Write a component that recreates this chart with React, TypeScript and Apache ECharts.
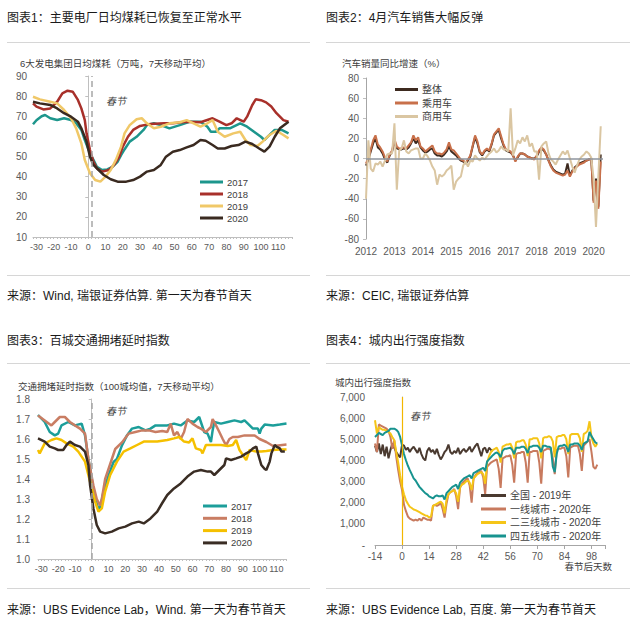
import React, { useEffect, useRef } from 'react';
import * as echarts from 'echarts';

const FONT = '"Liberation Sans", "Noto Sans CJK SC", sans-serif';

// ---------- Panel 1: coal consumption (day vs value) ----------
const coalNames = ['2017', '2018', '2019', '2020'];
const coal2017 = [[-32,66],[-30,68],[-27,70],[-25,70.6],[-22,69],[-18,68.1],[-14,69],[-10,68.1],[-7,66.5],[-4,63.2],[-2,58.2],[1,51.6],[3,48.3],[5,44.9],[8,43.3],[11,43.6],[14,44.9],[17,47.4],[19,50.7],[21,53.5],[24,57.4],[28,59.8],[32,63.2],[34,65.6],[38,66.5],[42,65.6],[47,64],[53,65.6],[59,67.3],[65,67.3],[69,64.8],[71,62.3],[74,62.3],[76,64],[82,64],[88,66.5],[92,64.8],[96,62.3],[100,59.8],[102,58.2],[105,60.7],[108,63.2],[112,63.2],[116,61.5]];
const coal2018 = [[-32,76.4],[-30,74.8],[-26,73.4],[-22,73.9],[-18,77.2],[-15,81.4],[-12,82.7],[-9,82.2],[-6,78.1],[-4,73.9],[-2,68.1],[-1,61.5],[1,53.2],[3,47.4],[5,44.1],[8,42.5],[12,43.3],[15,45.8],[18,49.9],[20,54.9],[23,59.8],[26,63.2],[30,65.2],[36,66.2],[44,66.5],[49,66.5],[57,67.3],[65,67],[72,69],[76,67.3],[80,65.6],[83,66.5],[86,69],[90,67.3],[92,69.8],[95,75.6],[97,78.4],[100,78],[103,76.9],[106,74.8],[109,71.5],[113,68.1],[116,67.3]];
const coal2019 = [[-32,79.7],[-28,78.4],[-22,77.2],[-18,76.4],[-14,73.1],[-10,69],[-7,64],[-4,56.6],[-2,48.3],[1,41.7],[4,38.3],[7,37.5],[10,40],[13,43.3],[16,48.3],[19,54.9],[21,61.5],[24,65.6],[28,68.5],[31,69],[34,66.5],[38,64],[42,64.8],[47,66.5],[53,67],[57,68.1],[61,66.5],[65,64.8],[69,66.5],[72,68.1],[75,62.3],[79,59.8],[84,61.5],[88,62.3],[91,58.2],[94,55.7],[98,55.2],[101,57.4],[105,60.7],[109,62.8],[113,60.7],[116,59]];
const coal2020 = [[-32,77.2],[-28,76.4],[-22,75.6],[-18,73.9],[-14,71.5],[-10,69.8],[-6,67.3],[-4,64],[-1,57.4],[1,49.9],[3,45.8],[6,43.3],[9,40.8],[13,38.7],[17,37.5],[22,37.5],[26,38.3],[30,40],[34,42.5],[38,43.3],[42,45.8],[45,49.9],[49,52.4],[53,53.2],[57,54.5],[61,55.7],[65,58.2],[68,57.8],[72,55.7],[75,54],[79,54],[83,55.2],[87,55.7],[91,57.4],[95,56.2],[99,54],[102,52.4],[105,54.9],[108,59.8],[111,64],[116,67.3]];
const coalSeries = [coal2017, coal2018, coal2019, coal2020];

// ---------- Panel 2: auto sales yoy, monthly from Jan 2012 ----------
const autoStartYear = 2012;
const autoNames = ['整体', '乘用车', '商用车'];
const autoTotal = [
  -7, -1, 7, 15, 20, 11, 9, 5, -1, -4, 3, 7,
  16, 10, 9, 9, 10, 9, 11, 15, 20, 15, 18, 11,
  8, 6, 7, 9, 10, 5, 3, 3, 2, 4, 7, 12,
  7, 5, 3, 0, -2, -3, -5, -2, 2, 12, 21, 15,
  6, 3, 7, 9, 7, 14, 23, 26, 28, 20, 13, 8,
  7, 6, 3, -2, 1, 5, 5, 4, 2, 1, 0, 0,
  2, 7, 10, 8, 4, -2, -7, -11, -13, -14, -15, -16,
  -15, -5, -17, -12, -9, -7, -5, -4, -3, -2, -1, 0,
  -42, -20, -48, 4,
];
const autoPassenger = [
  -5, 0, 9, 18, 23, 14, 11, 7, 1, -3, 4, 8,
  19, 12, 10, 10, 11, 10, 13, 16, 23, 18, 21, 12,
  10, 7, 9, 11, 13, 7, 5, 5, 4, 6, 9, 16,
  9, 8, 5, 2, -1, -2, -4, -1, 3, 13, 23, 17,
  7, 4, 8, 10, 8, 15, 24, 27, 30, 22, 14, 9,
  8, 7, 3, -3, 2, 5, 5, 4, 2, 1, 0, -1,
  3, 8, 11, 9, 4, -2, -8, -12, -14, -15, -16, -17,
  -16, -12, -18, -13, -10, -8, -6, -5, -4, -2, -1, 0,
  -44, -22, -50, -3,
];
const autoCommercial = [
  -40, 18, -10, -13, -5, -6, -3, -8, -2, 4, 5, 5,
  35, -31, 8, 10, 18, 7, 5, 8, 9, 10, 10, 0,
  0, 5, 2, -2, -8, -12, -26, -16, -18, -16, -12, -10,
  -7, -31, -23, -20, -18, -7, -3, -8, -2, -3, 3, 0,
  -2, 1, -1, 2, 5, 7, 10, 6, 8, 12, 9, 9,
  7, 50, 3, 10, 18, 15, 21, 17, 23, 12, 15, 7,
  7, -21, 12, 15, 17, 5, -1, -3, -6, -1, 3, 7,
  4, 8, 0, -8, -14, -7, -1, 2, 4, 7, 5, 1,
  -20, -68, -18, 32,
];
const autoSeries = [autoTotal, autoPassenger, autoCommercial];

// ---------- Panel 3: traffic congestion index ----------
const trafficNames = ['2017', '2018', '2019', '2020'];
const traffic2017 = [[-32,1.72],[-28,1.685],[-25,1.635],[-22,1.618],[-20,1.627],[-18,1.668],[-14,1.685],[-10,1.668],[-6,1.677],[-4,1.618],[-2,1.5],[0,1.4],[2,1.3],[4,1.25],[5,1.26],[7,1.335],[10,1.418],[13,1.485],[15,1.5],[18,1.568],[21,1.618],[24,1.652],[28,1.66],[32,1.643],[35,1.652],[38,1.668],[45,1.668],[49,1.677],[53,1.668],[57,1.693],[61,1.685],[64,1.71],[65,1.685],[67,1.635],[69,1.627],[71,1.585],[72,1.643],[73,1.685],[77,1.677],[81,1.685],[85,1.693],[89,1.685],[91,1.693],[93,1.677],[96,1.652],[99,1.652],[100,1.627],[101,1.652],[103,1.672],[108,1.668],[112,1.672],[116,1.677]];
const traffic2018 = [[-32,1.718],[-28,1.693],[-24,1.668],[-22,1.685],[-19,1.71],[-16,1.71],[-13,1.685],[-10,1.668],[-7,1.652],[-4,1.627],[-2,1.5],[1,1.367],[3,1.3],[5,1.267],[6,1.3],[8,1.4],[11,1.475],[14,1.55],[18,1.583],[22,1.627],[26,1.635],[30,1.643],[34,1.643],[38,1.635],[42,1.64],[45,1.635],[47,1.677],[49,1.618],[51,1.635],[53,1.6],[55,1.635],[57,1.7],[60,1.677],[63,1.66],[65,1.652],[68,1.635],[71,1.66],[72,1.7],[74,1.668],[76,1.635],[78,1.6],[80,1.568],[82,1.6],[84,1.61],[87,1.61],[91,1.618],[97,1.618],[100,1.6],[104,1.585],[108,1.565],[111,1.568],[116,1.572]];
const traffic2019 = [[-32,1.545],[-31,1.528],[-28,1.578],[-24,1.595],[-21,1.603],[-18,1.595],[-15,1.578],[-11,1.562],[-8,1.537],[-4,1.487],[-1,1.387],[2,1.287],[4,1.237],[6,1.253],[8,1.337],[11,1.42],[15,1.487],[19,1.537],[23,1.553],[27,1.57],[31,1.587],[39,1.587],[45,1.595],[49,1.603],[52,1.61],[55,1.587],[58,1.583],[60,1.603],[62,1.553],[65,1.545],[66,1.528],[68,1.57],[77,1.57],[81,1.565],[84,1.57],[86,1.595],[88,1.545],[90,1.52],[92,1.495],[94,1.545],[98,1.537],[101,1.537],[104,1.54],[108,1.545],[112,1.548],[116,1.548]];
const traffic2020 = [[-32,1.603],[-28,1.587],[-25,1.562],[-22,1.553],[-20,1.545],[-17,1.545],[-15,1.57],[-13,1.587],[-10,1.57],[-7,1.562],[-4,1.537],[-2,1.47],[-1,1.37],[1,1.253],[3,1.17],[5,1.137],[8,1.128],[12,1.137],[16,1.153],[20,1.162],[24,1.178],[28,1.187],[31,1.178],[35,1.203],[39,1.237],[42,1.28],[45,1.32],[49,1.353],[53,1.378],[57,1.412],[61,1.437],[65,1.445],[69,1.437],[71,1.437],[73,1.42],[76,1.445],[79,1.47],[80,1.503],[83,1.495],[86,1.503],[89,1.512],[92,1.528],[94,1.537],[96,1.553],[98,1.562],[99,1.528],[101,1.47],[103,1.45],[104,1.445],[106,1.487],[107,1.528],[109,1.57],[110,1.562],[112,1.553],[113,1.537],[115,1.537]];
const trafficSeries = [traffic2017, traffic2018, traffic2019, traffic2020];

// ---------- Panel 4: intra-city travel intensity, daily from day -14 ----------
const cityDayStart = -14;
const cityNames = ['全国 - 2019年', '一线城市 - 2020年', '二三线城市 - 2020年', '四五线城市 - 2020年'];
const national2019 = [
  4700, 4400, 4800, 4300, 4750, 4200, 4650, 4100, 4500, 4800, 4600, 4400, 4250, 4150,
  4750, 4700, 4500, 4600, 4400, 4550, 4650, 4500, 4350, 4600, 4300, 4100, 4000, 4450,
  4600, 4400, 4500, 4300, 4550, 4250, 4050, 4200, 4400, 4500, 4750, 4400, 4300, 4450,
  4350, 4600, 4300, 4450, 4550, 4400, 4500, 4650, 4400, 4550, 4700, 4800, 4500, 4200,
  4550, 4600, 4350, 4600, 4500, 4450,
];
const tier1 = [
  4800, 4400, 5700, 5650, 5600, 5550, 5500, 5400, 5100, 4550, 4950, 4170, 3540, 3000,
  2600, 1900, 1600, 1350, 1250, 1200, 1150, 1200, 1150, 1250, 1150, 1300, 1250, 1200,
  1200, 1150, 1850, 1900, 1850, 1900, 2000, 1700, 1300, 1950, 2400, 2500, 2550, 2650,
  2300, 1700, 2700, 2900, 3000, 3100, 3150, 2800, 2000, 3150, 3300, 3400, 3450, 3500,
  3200, 2400, 3700, 3800, 3900, 3950, 4000, 4050, 3600, 2700, 4100, 4150, 4200, 4200,
  4250, 3800, 2950, 4300, 4350, 4350, 4400, 4400, 3900, 2950, 4400, 4400, 4450, 4450,
  4450, 3900, 2900, 4450, 4500, 4550, 4550, 4500, 4100, 3350, 4500, 4550, 4550, 4600,
  4600, 4200, 3200, 4600, 4650, 4700, 4700, 4700, 4300, 3500, 4700, 4800, 4900, 5000,
  4400, 3700, 3600, 3800,
];
const tier23 = [
  5900, 5270, 5580, 5500, 5450, 5450, 5400, 5350, 5270, 5100, 4950, 4400, 3900, 3300,
  2750, 2400, 2120, 1950, 1810, 1750, 1680, 1650, 1600, 1550, 1500, 1450, 1400, 1380,
  1300, 1350, 1850, 1900, 1950, 2000, 2050, 1950, 1500, 2150, 2400, 2500, 2550, 2600,
  2450, 2050, 2750, 2850, 2900, 3000, 3050, 2950, 2600, 3150, 3250, 3350, 3400, 3450,
  3350, 2900, 3900, 4200, 4400, 4500, 4550, 4600, 4400, 3900, 4650, 4700, 4750, 4750,
  4800, 4600, 4100, 4850, 4900, 4900, 4950, 4950, 4750, 4200, 5000, 5000, 5050, 5050,
  5050, 4800, 4100, 5050, 5100, 5100, 5150, 5100, 4900, 4150, 5100, 5150, 5150, 5200,
  5200, 5000, 4300, 5200, 5250, 5250, 5250, 5250, 5050, 4400, 5250, 5300, 5400, 5850,
  5100, 4800, 4650, 4800,
];
const tier45 = [
  5110, 5200, 5300, 5250, 5200, 5300, 5350, 5400, 5500, 5500, 5500, 5450, 5350, 5110,
  4700, 4300, 4010, 3750, 3540, 3350, 3150, 3050, 2900, 2750, 2650, 2550, 2450, 2400,
  2300, 2250, 2200, 2300, 2350, 2300, 2300, 2350, 2150, 2450, 2550, 2650, 2750, 2800,
  2850, 2650, 2950, 3050, 3150, 3200, 3250, 3300, 3150, 3400, 3450, 3500, 3550, 3600,
  3650, 3500, 3950, 4050, 4150, 4250, 4330, 4380, 4300, 4150, 4450, 4550, 4550, 4580,
  4600, 4500, 4300, 4600, 4600, 4600, 4650, 4650, 4550, 4350, 4650, 4650, 4700, 4700,
  4700, 4600, 4400, 4700, 4700, 4650, 4650, 4600, 3700, 3450, 4300, 4650, 4700, 4700,
  4750, 4650, 4400, 4750, 4750, 4800, 4800, 4800, 4700, 4500, 4800, 4850, 4900, 5350,
  5150, 5000, 4850, 4800,
];
const citySeries = [national2019, tier1, tier23, tier45];

// ---------- styles ----------
const coalColors = ['#1d968c', '#a8302a', '#f0c868', '#3a2a20'];
const autoColors = ['#3d2a1f', '#c8704a', '#dac6a2'];
const trafficColors = ['#1c9e9a', '#c97d63', '#f5c000', '#3a2d24'];
const cityColors = ['#4a3a30', '#c87a5e', '#f5c518', '#17938f'];

const AXIS = '#bfbfbf';
const LABEL = { fontSize: 10, color: '#595959', fontFamily: FONT };
const XLABEL = { fontSize: 9, color: '#595959', fontFamily: FONT };

function txt(text: string, left: number, top: number, size: number, extra: any = {}) {
  return {
    type: 'text', left, top, silent: true,
    style: { text, fontSize: size, fontFamily: FONT, fill: extra.fill || '#1a1a1a', fontStyle: extra.fontStyle || 'normal' },
  };
}
function rightTxt(text: string, right: number, top: number, size: number) {
  return { type: 'text', right, top, silent: true, style: { text, fontSize: size, fontFamily: FONT, fill: '#404040' } };
}
function hline(x1: number, x2: number, y: number) {
  return { type: 'line', silent: true, shape: { x1, y1: y, x2, y2: y }, style: { stroke: '#d6d6d6', lineWidth: 1 } };
}

function lineSeries(name: string, data: any[], color: string, width: number, xi: number, yi: number, extra: any = {}) {
  return {
    type: 'line', name, data, xAxisIndex: xi, yAxisIndex: yi,
    color, showSymbol: false, symbol: 'none', smooth: false,
    lineStyle: { color, width }, itemStyle: { color },
    emphasis: { disabled: true }, animation: false,
    ...extra,
  };
}

function legendCfg(data: string[], left: number, top: number, lh: number, gap: number, w: number, fs: number, fmt?: (n: string) => string) {
  return {
    data, left, top, orient: 'vertical', icon: 'rect', itemWidth: w, itemHeight: 3, itemGap: gap,
    padding: 0, selectedMode: false,
    textStyle: { fontSize: fs, color: '#404040', fontFamily: FONT, lineHeight: lh, padding: [0, 0, 0, -1] },
    ...(fmt ? { formatter: fmt } : {}),
  };
}

export default function App() {
  const ref = useRef<HTMLDivElement>(null);
  useEffect(() => {
    if (!ref.current) return;
    const chart = echarts.init(ref.current, undefined, { renderer: 'svg' });

    const series: any[] = [];
    // panel 1
    coalSeries.forEach((d, i) => {
      series.push(lineSeries(coalNames[i], d, coalColors[i], 2.5, 0, 0, i === 0 ? {
        markLine: { silent: true, symbol: ['none', 'none'], label: { show: false },
          lineStyle: { type: [6, 4], color: '#a6a6a6', width: 1.5 }, data: [{ xAxis: 2 }] },
      } : {}));
    });
    // panel 2
    autoSeries.forEach((arr, i) => {
      const data = arr.map((v, m) => [autoStartYear + m / 12, v]);
      series.push(lineSeries(autoNames[i], data, autoColors[i], 2, 1, 1, i === 0 ? {
        markLine: { silent: true, symbol: ['none', 'none'], label: { show: false },
          lineStyle: { type: 'solid', color: '#8e959e', width: 1.5 }, data: [{ yAxis: 0 }] },
      } : {}));
    });
    // panel 3
    trafficSeries.forEach((d, i) => {
      series.push(lineSeries('P3-' + trafficNames[i], d, trafficColors[i], 2.5, 2, 2, i === 0 ? {
        markLine: { silent: true, symbol: ['none', 'none'], label: { show: false },
          lineStyle: { type: [6, 4], color: '#a6a6a6', width: 1.5 }, data: [{ xAxis: 0 }] },
      } : {}));
    });
    // panel 4
    citySeries.forEach((arr, i) => {
      const data = arr.map((v, k) => [cityDayStart + k, v]);
      series.push(lineSeries(cityNames[i], data, cityColors[i], 2, 3, 3, i === 0 ? {
        markLine: { silent: true, symbol: ['none', 'none'], label: { show: false },
          lineStyle: { type: 'solid', color: '#f2b600', width: 1.2 }, data: [{ xAxis: 0 }] },
      } : {}));
    });

    const baseX = (gridIndex: number, extra: any) => ({
      type: 'value', gridIndex,
      axisLine: { show: true, onZero: false, lineStyle: { color: AXIS, width: 1 } },
      axisTick: { show: true, length: 3, lineStyle: { color: AXIS } },
      splitLine: { show: false },
      ...extra,
    });
    const baseY = (gridIndex: number, extra: any) => ({
      type: 'value', gridIndex,
      axisLine: { show: true, lineStyle: { color: AXIS, width: 1 } },
      axisTick: { show: true, length: 3, lineStyle: { color: AXIS } },
      splitLine: { show: false },
      ...extra,
    });

    const option: any = {
      animation: false,
      backgroundColor: '#ffffff',
      textStyle: { fontFamily: FONT },
      grid: [
        { left: 33, top: 76, width: 259, height: 161, containLabel: false, outerBoundsMode: 'none' },
        { left: 366, top: 78, width: 237, height: 161, containLabel: false, outerBoundsMode: 'none' },
        { left: 38, top: 399, width: 248.5, height: 160, containLabel: false, outerBoundsMode: 'none' },
        { left: 375, top: 397, width: 230, height: 148, containLabel: false, outerBoundsMode: 'none' },
      ],
      xAxis: [
        baseX(0, { min: -32, max: 118, interval: 2, axisTick: { show: true, length: 2, lineStyle: { color: AXIS } },
          axisLabel: { ...XLABEL, margin: 5, formatter: (v: number) => (v % 10 === 0 ? String(v) : '') } }),
        baseX(1, { min: 2012, max: 2020.33, interval: 1, axisLine: { show: false }, axisTick: { show: false },
          axisLabel: { ...LABEL, margin: 7, formatter: (v: number) => (Math.abs(v - Math.round(v)) < 1e-6 ? String(Math.round(v)) : '') } }),
        baseX(2, { min: -32, max: 116, interval: 2, axisTick: { show: true, length: 2, lineStyle: { color: AXIS } },
          axisLabel: { ...XLABEL, margin: 5, formatter: (v: number) => (v % 10 === 0 ? String(v) : '') } }),
        baseX(3, { min: -14, max: 105, interval: 14, axisLine: { show: true, onZero: false, lineStyle: { color: '#a6a6a6' } },
          axisTick: { show: true, length: 4, lineStyle: { color: '#a6a6a6' } },
          axisLabel: { ...LABEL, margin: 6, formatter: (v: number) => (v % 14 === 0 ? String(v) : '') } }),
      ],
      yAxis: [
        baseY(0, { min: 10, max: 90, interval: 10, axisLabel: { ...LABEL, margin: 6 } }),
        baseY(1, { min: -80, max: 80, interval: 20, axisLine: { show: true, lineStyle: { color: '#a6a6a6' } },
          axisLabel: { ...LABEL, margin: 7 } }),
        baseY(2, { min: 1.0, max: 1.8, interval: 0.1, axisLabel: { ...LABEL, margin: 8, formatter: (v: number) => v.toFixed(1) } }),
        baseY(3, { min: 0, max: 7000, interval: 1000, axisLine: { show: true, lineStyle: { color: '#a6a6a6' } },
          axisTick: { show: false },
          axisLabel: { ...LABEL, margin: 10, formatter: (v: number) => (v === 0 ? '-' : v.toLocaleString('en-US')) } }),
      ],
      legend: [
        legendCfg(coalNames, 200, 176, 12, 0, 23, 9.5),
        legendCfg(autoNames, 395, 83, 13, 0.5, 23, 10),
        legendCfg(trafficNames.map((n) => 'P3-' + n), 203, 500, 12, 0.3, 24, 9.5, (n: string) => n.slice(3)),
        legendCfg(cityNames, 481, 489, 13, 0.5, 25, 10),
      ],
      graphic: [
        txt('图表1：主要电厂日均煤耗已恢复至正常水平', 7, 12, 12),
        txt('图表2：4月汽车销售大幅反弹', 326, 12, 12),
        txt('图表3：百城交通拥堵延时指数', 7, 335, 12),
        txt('图表4：城内出行强度指数', 326, 335, 12),
        hline(7, 310, 42.5), hline(326, 630, 42.5), hline(7, 310, 275.5), hline(326, 630, 275.5),
        hline(7, 310, 363.5), hline(326, 630, 363.5), hline(7, 310, 588.5), hline(326, 630, 588.5),
        txt('6大发电集团日均煤耗（万吨，7天移动平均）', 20, 59, 9.5, { fill: '#404040' }),
        txt('汽车销量同比增速（%）', 342, 59, 9.5, { fill: '#404040' }),
        txt('交通拥堵延时指数（100城均值，7天移动平均）', 18, 382, 9.5, { fill: '#404040' }),
        txt('城内出行强度指数', 335, 378, 9.5, { fill: '#404040' }),
        txt('春节', 106, 96, 10, { fill: '#404040', fontStyle: 'italic' }),
        txt('春节', 106, 406, 10, { fill: '#404040', fontStyle: 'italic' }),
        txt('春节', 410, 411, 10, { fill: '#404040', fontStyle: 'italic' }),
        rightTxt('春节后天数', 23, 562, 9.5),
        txt('来源：Wind, 瑞银证券估算. 第一天为春节首天', 7, 290, 12),
        txt('来源：CEIC, 瑞银证券估算', 326, 290, 12),
        txt('来源：UBS Evidence Lab，Wind. 第一天为春节首天', 7, 604, 12),
        txt('来源：UBS Evidence Lab, 百度. 第一天为春节首天', 326, 604, 12),
      ],
      series,
    };
    chart.setOption(option);
    return () => chart.dispose();
  }, []);

  return (
    <div
      ref={ref}
      style={{ position: 'fixed', left: 0, top: 0, width: 635, height: 636, background: '#fff' }}
    />
  );
}
